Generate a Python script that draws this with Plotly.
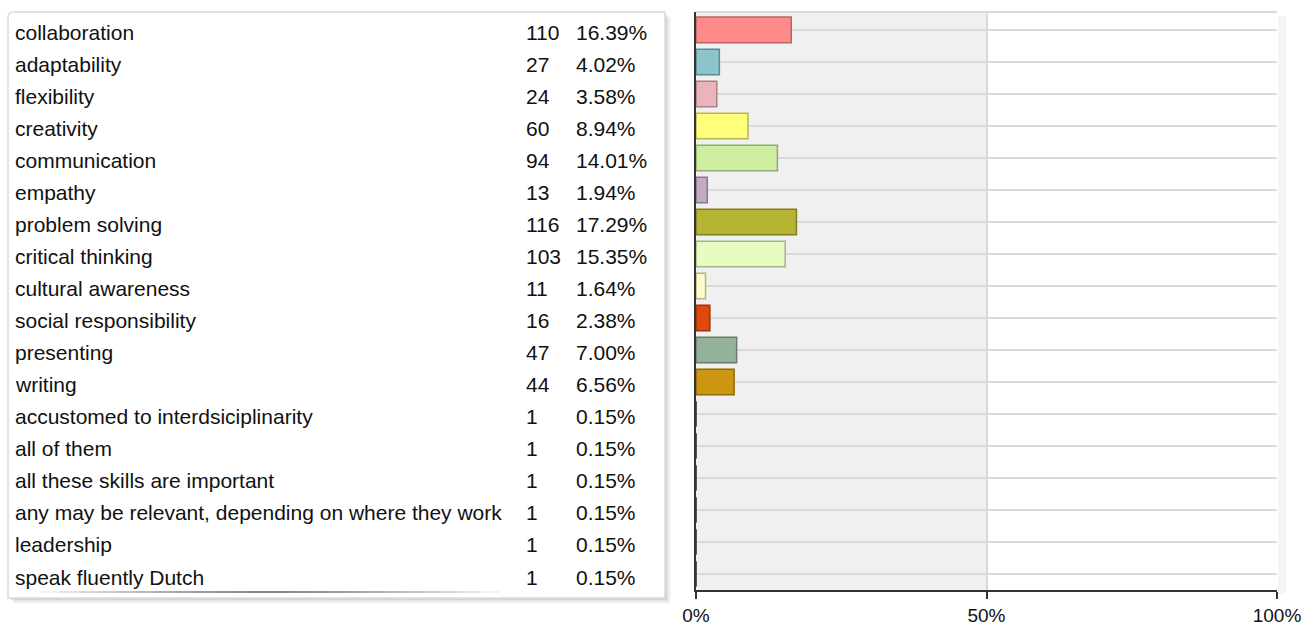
import plotly.graph_objects as go

# Survey answers: skill, number of mentions, share of all mentions
skills = [
    "collaboration", "adaptability", "flexibility", "creativity", "communication",
    "empathy", "problem solving", "critical thinking", "cultural awareness",
    "social responsibility", "presenting", "writing",
    "accustomed to interdsiciplinarity", "all of them", "all these skills are important",
    "any may be relevant, depending on where they work", "leadership", "speak fluently Dutch",
]
counts = [110, 27, 24, 60, 94, 13, 116, 103, 11, 16, 47, 44, 1, 1, 1, 1, 1, 1]
percents = [16.39, 4.02, 3.58, 8.94, 14.01, 1.94, 17.29, 15.35, 1.64, 2.38, 7.00, 6.56,
            0.15, 0.15, 0.15, 0.15, 0.15, 0.15]
fill_colors = [
    "#FF8A8A", "#8CC5C9", "#EBB4BC", "#FFFF7A", "#CFEFA0", "#C3ABC3",
    "#B5B533", "#E8FCC0", "#FFFCC8", "#E0480F", "#94B19A", "#CC9611",
    "#555555", "#555555", "#555555", "#555555", "#555555", "#555555",
]
line_colors = [
    "#B86464", "#5F8A8D", "#A88088", "#B5B555", "#93AA70", "#8A788A",
    "#7F7F22", "#A4B287", "#B4B28D", "#9E320A", "#687D6C", "#8F690B",
    "#444444", "#444444", "#444444", "#444444", "#444444", "#444444",
]
x_ticks = [0, 50, 100]
x_tick_text = ["0%", "50%", "100%"]

W, H = 1314, 627
FONT = "Liberation Sans, Arial, sans-serif"

def px(x):
    return x / W

def py(y):
    return 1 - y / H

fig = go.Figure()

fig.add_trace(go.Bar(
    x=percents,
    y=skills,
    orientation="h",
    width=0.8,
    marker=dict(
        color=fill_colors,
        line=dict(color=line_colors, width=[1.5 if p > 1 else 0 for p in percents]),
    ),
    hovertemplate="%{y}: %{x:.2f}%<extra></extra>",
    showlegend=False,
))

shapes = []

# Legend table panel: soft shadow, then white box with a rounded top-left corner
for off, op in [(6, 0.04), (4, 0.06), (2, 0.08)]:
    shapes.append(dict(
        type="rect", xref="paper", yref="paper", layer="below",
        x0=px(8 + off), x1=px(665 + off), y0=py(598 + off), y1=py(12 + off),
        fillcolor=f"rgba(0,0,0,{op})", line=dict(width=0),
    ))
r = 6
x0b, x1b, y0b, y1b = 8, 665, 12, 598
path = (
    f"M {px(x0b)},{py(y0b + r)} "
    f"Q {px(x0b)},{py(y0b)} {px(x0b + r)},{py(y0b)} "
    f"L {px(x1b)},{py(y0b)} L {px(x1b)},{py(y1b)} L {px(x0b)},{py(y1b)} Z"
)
shapes.append(dict(
    type="path", xref="paper", yref="paper", layer="below", path=path,
    fillcolor="white", line=dict(color="#DADADA", width=1.5),
))
# shading along the bottom edge of the panel, darkest near the middle
centre, half = 270, 230
steps = 12
for i in range(steps):
    h = half * (1 - i / steps)
    shapes.append(dict(
        type="line", xref="paper", yref="paper", layer="below",
        x0=px(centre - h), x1=px(centre + h), y0=py(592), y1=py(592),
        line=dict(color="rgba(0,0,0,0.07)", width=1.5),
    ))

# Chart area: grey half from 0 to 50 %, faint shadow to the right, grey top border
shapes.append(dict(
    type="rect", xref="paper", yref="paper", layer="below",
    x0=px(1278), x1=px(1286), y0=py(594), y1=py(16),
    fillcolor="rgba(0,0,0,0.04)", line=dict(width=0),
))
shapes.append(dict(
    type="rect", xref="x", yref="paper", layer="below",
    x0=0, x1=50, y0=py(590), y1=py(12),
    fillcolor="#F0F0F0", line=dict(width=0),
))
shapes.append(dict(
    type="line", xref="x", yref="paper", layer="below",
    x0=0, x1=100, y0=py(12), y1=py(12),
    line=dict(color="#D9D9D9", width=2),
))

annotations = []
for s, c, p in zip(skills, counts, percents):
    for xpos, txt in [(13, s), (524, str(c)), (574, f"{p:.2f}%")]:
        annotations.append(dict(
            xref="paper", yref="y", x=px(xpos), y=s, text=txt,
            xanchor="left", yanchor="middle", showarrow=False, yshift=-3,
            font=dict(family=FONT, size=21, color="#111111"),
        ))

fig.update_layout(
    width=W, height=H,
    margin=dict(l=0, r=0, t=0, b=0, autoexpand=False),
    paper_bgcolor="white",
    plot_bgcolor="white",
    shapes=shapes,
    annotations=annotations,
    bargap=0.2,
    xaxis=dict(
        domain=[px(696), px(1277)],
        range=[0, 100],
        automargin=False,
        tickvals=x_ticks, ticktext=x_tick_text,
        ticks="outside", ticklen=7, tickwidth=2, tickcolor="#333333",
        showline=True, linecolor="#333333", linewidth=2,
        showgrid=True, gridcolor="#D9D9D9", gridwidth=2,
        zeroline=False,
        tickfont=dict(family=FONT, size=19, color="#111111"),
        fixedrange=True,
    ),
    yaxis=dict(
        domain=[py(590), py(12)],
        categoryorder="array", categoryarray=skills,
        range=[17.5, -0.56],
        automargin=False,
        showticklabels=False,
        showline=True, linecolor="#333333", linewidth=2,
        showgrid=True, gridcolor="#D9D9D9", gridwidth=2,
        ticks="",
        fixedrange=True,
    ),
)

fig.write_html("out.html")
